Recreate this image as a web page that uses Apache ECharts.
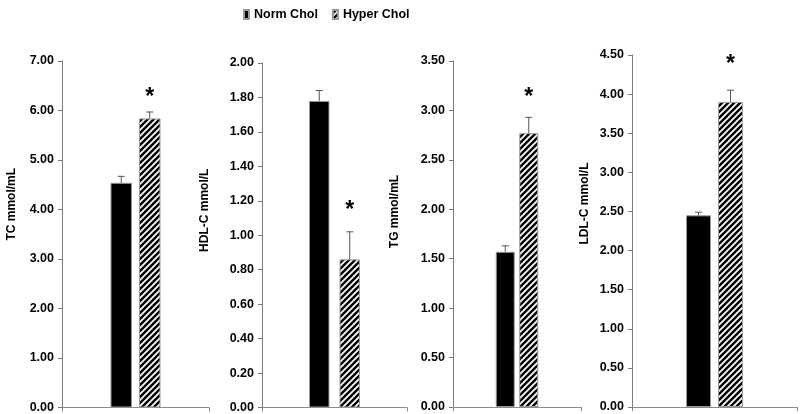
<!DOCTYPE html>
<html>
<head>
<meta charset="utf-8">
<script src="https://cdn.jsdelivr.net/npm/echarts@6/dist/echarts.min.js"></script>
<style>html,body{margin:0;padding:0;background:#fff;}#c{width:800px;height:414px;}</style>
</head>
<body>
<div id="c"></div>
<script>
// ---- data ----
const groups = ['Norm Chol', 'Hyper Chol'];
const panelNames = ['TC mmol/mL', 'HDL-C mmol/L', 'TG mmol/mL', 'LDL-C mmol/L'];
const tcMean = [4.54, 5.84];
const tcErr = [0.13, 0.13];
const hdlMean = [1.78, 0.86];
const hdlErr = [0.06, 0.16];
const tgMean = [1.57, 2.77];
const tgErr = [0.06, 0.16];
const ldlMean = [2.45, 3.90];
const ldlErr = [0.04, 0.15];
const axisMax = [7, 2, 3.5, 4.5];
const axisInterval = [1, 0.2, 0.5, 0.5];
const starValue = [6.36, 1.17, 3.18, 4.44]; // asterisk height (Hyper Chol)

const means = [tcMean, hdlMean, tgMean, ldlMean];
const errs = [tcErr, hdlErr, tgErr, ldlErr];

// ---- layout ----
const grids = [
  {left: 62, top: 61, width: 147, height: 348},
  {left: 262, top: 63, width: 145, height: 346},
  {left: 453, top: 61, width: 128, height: 346},
  {left: 632, top: 55, width: 165, height: 352}
];
const barW = [21.5, 20.5, 19, 25];
const barGapPx = [7, 10, 4.5, 7];
const nameGaps = [44, 51, 52, 41];
const namePad = [60, 50, 45, 55];

// hatch pattern
const pc = document.createElement('canvas');
pc.width = 6; pc.height = 6;
const ctx = pc.getContext('2d');
ctx.fillStyle = '#000'; ctx.fillRect(0, 0, 6, 6);
ctx.strokeStyle = '#fff'; ctx.lineWidth = 1.8;
ctx.beginPath();
ctx.moveTo(-1, 7); ctx.lineTo(7, -1);
ctx.moveTo(-1, 1); ctx.lineTo(1, -1);
ctx.moveTo(5, 7); ctx.lineTo(7, 5);
ctx.stroke();
const hatch = {image: pc, repeat: 'repeat'};

const font = 'Liberation Sans';
const xAxis = [], yAxis = [], series = [];
for (let i = 0; i < 4; i++) {
  xAxis.push({
    type: 'category', gridIndex: i, data: [''],
    axisLine: {lineStyle: {color: '#8a8a8a', width: 1}},
    axisTick: {show: true, length: 4, lineStyle: {color: '#8a8a8a'}},
    axisLabel: {show: false}
  });
  yAxis.push({
    type: 'value', gridIndex: i, min: 0, max: axisMax[i], interval: axisInterval[i],
    name: panelNames[i], nameLocation: 'middle', nameGap: nameGaps[i],
    nameTextStyle: {fontFamily: font, fontWeight: 'bold', fontSize: 12, color: '#000', padding: [0, 0, 0, namePad[i]]},
    axisLine: {show: true, lineStyle: {color: '#7a7a7a', width: 1}},
    axisTick: {show: true, length: 4, lineStyle: {color: '#7a7a7a'}},
    splitLine: {show: false},
    axisLabel: {fontFamily: font, fontWeight: 'bold', fontSize: 12.5, color: '#000', margin: 8,
      formatter: v => v.toFixed(2)}
  });
  const gapPct = (barGapPx[i] / barW[i] * 100).toFixed(1) + '%';
  series.push({
    name: groups[0], type: 'bar', xAxisIndex: i, yAxisIndex: i,
    data: [means[i][0]], barWidth: barW[i], barGap: gapPct,
    itemStyle: {color: '#000', borderColor: '#9a9a9a', borderWidth: 1},
    emphasis: {disabled: true}
  });
  series.push({
    name: groups[1], type: 'bar', xAxisIndex: i, yAxisIndex: i,
    data: [means[i][1]], barWidth: barW[i], barGap: gapPct,
    itemStyle: {color: hatch, borderColor: '#9a9a9a', borderWidth: 1},
    emphasis: {disabled: true}
  });
  const gi = i;
  series.push({
    type: 'custom', xAxisIndex: i, yAxisIndex: i, z: 5, silent: true,
    data: [[0, means[i][0], errs[i][0], 0], [0, means[i][1], errs[i][1], 1]],
    renderItem: function (params, api) {
      const m = api.value(1), e = api.value(2), k = api.value(3);
      const b = api.coord([0, m]);
      const t = api.coord([0, m + e]);
      const x = b[0] + (k === 0 ? -1 : 1) * (barW[gi] + barGapPx[gi]) / 2;
      return {type: 'group', children: [
        {type: 'line', shape: {x1: x, y1: b[1], x2: x, y2: t[1]}, style: {stroke: '#555', lineWidth: 1}},
        {type: 'line', shape: {x1: x - 3.5, y1: t[1], x2: x + 3.5, y2: t[1]}, style: {stroke: '#555', lineWidth: 1}}
      ]};
    }
  });
  series.push({
    type: 'custom', xAxisIndex: i, yAxisIndex: i, z: 5, silent: true,
    data: [[0, starValue[i]]],
    renderItem: function (params, api) {
      const p = api.coord([0, api.value(1)]);
      const x = p[0] + (barW[gi] + barGapPx[gi]) / 2;
      return {type: 'text', x: x, y: p[1] + 5,
        style: {text: '*', fontFamily: font, fontWeight: 'bold', fontSize: 23, fill: '#000',
          align: 'center', verticalAlign: 'middle'}};
    }
  });
}

const chart = echarts.init(document.getElementById('c'));
chart.setOption({
  animation: false,
  backgroundColor: '#fff',
  legend: {
    data: groups, left: 238, top: 3, icon: 'rect', itemWidth: 5, itemHeight: 9, itemGap: 14,
    textStyle: {fontFamily: font, fontWeight: 'bold', fontSize: 12.5, color: '#000'}
  },
  grid: grids,
  xAxis: xAxis,
  yAxis: yAxis,
  series: series
});
</script>
</body>
</html>
